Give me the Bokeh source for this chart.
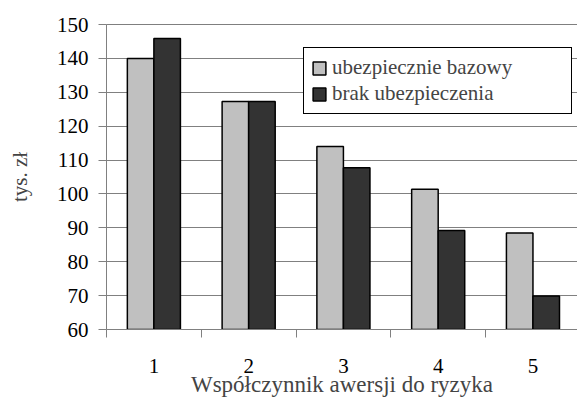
from bokeh.plotting import figure
from bokeh.models import ColumnDataSource, FixedTicker, Span, Legend, LegendItem
from bokeh.transform import dodge
from bokeh.embed import file_html
from bokeh.resources import INLINE

categories = [1, 2, 3, 4, 5]
bazowy = [140, 127.3, 114, 101.4, 88.5]
brak = [145.9, 127.3, 107.7, 89.2, 69.9]
y_ticks = [60, 70, 80, 90, 100, 110, 120, 130, 140, 150]
series_names = ["ubezpiecznie bazowy", "brak ubezpieczenia"]
x_title = "Współczynnik awersji do ryzyka"
y_title = "tys. zł"

src = ColumnDataSource(data=dict(x=categories, bazowy=bazowy, brak=brak))

FONT = "Liberation Serif"

p = figure(width=577, height=399, output_backend="svg", toolbar_location=None,
           x_range=(0.5, 5.47), y_range=(60, 150),
           min_border_left=106, min_border_right=0, min_border_top=24, min_border_bottom=10)

r1 = p.vbar(x=dodge("x", -0.14, range=p.x_range), top="bazowy", bottom=60, width=0.28,
            source=src, fill_color="#C0C0C0", line_color="black", line_width=1.5)
r2 = p.vbar(x=dodge("x", 0.14, range=p.x_range), top="brak", bottom=60, width=0.28,
            source=src, fill_color="#333333", line_color="black", line_width=1.5)

p.outline_line_color = None
p.add_layout(Span(location=150, dimension="width", line_color="black", line_width=1))

# y axis
p.yaxis.ticker = FixedTicker(ticks=y_ticks)
p.yaxis.axis_line_color = "#808080"
p.yaxis.major_tick_line_color = "#808080"
p.yaxis.major_tick_out = 8
p.yaxis.major_tick_in = 0
p.yaxis.minor_tick_line_color = None
p.yaxis.major_label_text_font = FONT
p.yaxis.major_label_text_font_size = "21px"
p.yaxis.major_label_text_color = "black"
p.yaxis.major_label_standoff = 10
p.yaxis.axis_label = y_title
p.yaxis.axis_label_text_font = FONT
p.yaxis.axis_label_text_font_size = "21px"
p.yaxis.axis_label_text_font_style = "normal"
p.yaxis.axis_label_standoff = 22

# x axis
p.xaxis.ticker = FixedTicker(ticks=categories, minor_ticks=[0.5, 1.5, 2.5, 3.5, 4.5, 5.5])
p.xaxis.axis_line_color = "#808080"
p.xaxis.major_tick_line_color = None
p.xaxis.minor_tick_line_color = "#808080"
p.xaxis.minor_tick_out = 8
p.xaxis.minor_tick_in = 0
p.xaxis.major_label_text_font = FONT
p.xaxis.major_label_text_font_size = "21px"
p.xaxis.major_label_text_color = "black"
p.xaxis.major_label_standoff = 21
p.xaxis.axis_label = x_title
p.xaxis.axis_label_text_font = FONT
p.xaxis.axis_label_text_font_size = "23px"
p.xaxis.axis_label_text_font_style = "normal"
p.xaxis.axis_label_standoff = -4

p.xgrid.grid_line_color = None
p.ygrid.grid_line_color = "#808080"
p.ygrid.grid_line_width = 1

legend = Legend(items=[LegendItem(label=series_names[0], renderers=[r1]),
                       LegendItem(label=series_names[1], renderers=[r2])],
                location=(197, 215))
legend.label_text_font = FONT
legend.label_text_font_size = "21px"
legend.border_line_color = "black"
legend.border_line_width = 1
legend.border_line_alpha = 1
legend.glyph_width = 16
legend.glyph_height = 16
legend.label_height = 20
legend.label_width = 232
legend.spacing = 1
legend.padding = 7
legend.margin = 0
legend.label_standoff = 5
legend.background_fill_alpha = 1
p.add_layout(legend)

open("out.html", "w").write(file_html(p, INLINE))
